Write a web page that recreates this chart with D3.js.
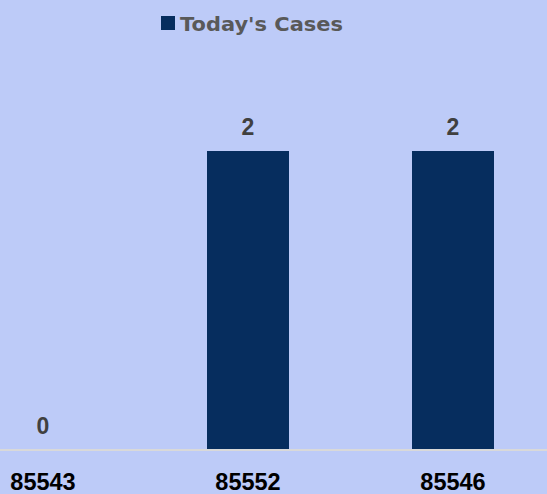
<!DOCTYPE html>
<html><head><meta charset="utf-8">
<script src="https://cdn.jsdelivr.net/npm/d3@7"></script>
<style>html,body{margin:0;padding:0;background:#BDCBF8;}svg{display:block;}</style>
</head><body>
<script>
const categories = ["85543", "85552", "85546"];
const values = [0, 2, 2];
const seriesName = "Today's Cases";

const W = 547, H = 494;
const svg = d3.select("body").append("svg").attr("width", W).attr("height", H);
svg.append("rect").attr("width", W).attr("height", H).attr("fill", "#BDCBF8");

const x = d3.scaleBand().domain(categories).range([-59.5, 555.5]).paddingInner(0.6).paddingOuter(0.3);
const y = d3.scaleLinear().domain([0, 2]).range([450, 151]);

svg.selectAll("rect.bar").data(values).join("rect").attr("class", "bar")
  .attr("x", (d, i) => x(categories[i]))
  .attr("width", x.bandwidth())
  .attr("y", d => y(d))
  .attr("height", d => y(0) - y(d))
  .attr("fill", "#062D5E");

svg.append("line").attr("x1", 0).attr("x2", W).attr("y1", y(0)).attr("y2", y(0))
  .attr("stroke", "#D9D9D9").attr("stroke-width", 2);

svg.selectAll("text.val").data(values).join("text").attr("class", "val")
  .attr("x", (d, i) => x(categories[i]) + x.bandwidth() / 2)
  .attr("y", d => y(d) - 16)
  .attr("text-anchor", "middle")
  .attr("font-family", "Liberation Sans, Arial, sans-serif")
  .attr("font-weight", "bold").attr("font-size", 23)
  .attr("fill", "#404040")
  .text(d => d);

const xAxis = d3.axisBottom(x).tickSize(0).tickPadding(0);
const gx = svg.append("g").attr("transform", "translate(0,450)").call(xAxis);
gx.select(".domain").remove();
gx.selectAll("text").attr("dy", null).attr("y", 40)
  .attr("font-family", "Liberation Sans, Arial, sans-serif")
  .attr("font-weight", "bold").attr("font-size", 23.5).attr("fill", "#000");

const lg = svg.append("g");
lg.append("rect").attr("x", 161).attr("y", 16).attr("width", 14).attr("height", 14).attr("fill", "#062D5E");
lg.append("text").attr("x", 180).attr("y", 31)
  .attr("font-family", "DejaVu Sans, sans-serif").attr("font-weight", "bold").attr("font-size", 20)
  .attr("fill", "#595959").attr("textLength", 163).attr("lengthAdjust", "spacingAndGlyphs")
  .text(seriesName);
</script>
</body></html>
